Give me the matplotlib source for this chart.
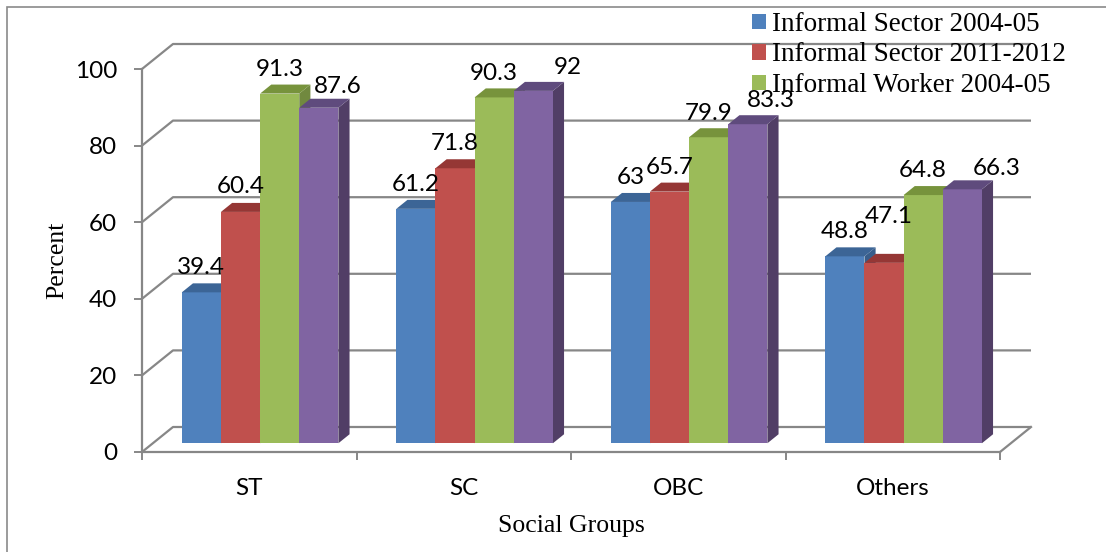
import matplotlib
matplotlib.use("Agg")
import matplotlib.pyplot as plt
from matplotlib.patches import Polygon, Rectangle, Patch

# ---------------- data ----------------
categories = ["ST", "SC", "OBC", "Others"]
series_names = ["Informal Sector 2004-05", "Informal Sector 2011-2012",
                "Informal Worker 2004-05", "Informal Worker 2011-2012"]
sector_0405 = [39.4, 61.2, 63, 48.8]
sector_1112 = [60.4, 71.8, 65.7, 47.1]
worker_0405 = [91.3, 90.3, 79.9, 64.8]
worker_1112 = [87.6, 92, 83.3, 66.3]
label_texts = [["39.4", "61.2", "63", "48.8"],
               ["60.4", "71.8", "65.7", "47.1"],
               ["91.3", "90.3", "79.9", "64.8"],
               ["87.6", "92", "83.3", "66.3"]]
y_ticks = [0, 20, 40, 60, 80, 100]
series = [sector_0405, sector_1112, worker_0405, worker_1112]

# ---------------- style ----------------
front_cols = ["#4F81BD", "#C0504D", "#9BBB59", "#8064A2"]
top_cols = ["#3C6596", "#953735", "#77933C", "#5F4B7D"]
side_cols = ["#385D8A", "#8C3836", "#71893F", "#513E66"]
grid_col = "#878787"
SANS = ["Lato", "DejaVu Sans"]
SERIF = ["Liberation Serif", "DejaVu Serif"]
FS = 17.5

W, H, DPI = 1106, 552, 100
fig = plt.figure(figsize=(W / DPI, H / DPI), dpi=DPI)
ax_l, ax_b, ax_w, ax_h = 142 / W, 100 / H, 858 / W, 383 / H
ax = fig.add_axes([ax_l, ax_b, ax_w, ax_h])
ax.set_xlim(0, 4)
ax.set_ylim(0, 100)
ax.patch.set_visible(False)

# depth vector (pixels -> data units)
px_x = W * ax_w / 4.0
px_y = H * ax_h / 100.0
DXp, DYp = 31, 25
ddx, ddy = DXp / px_x, DYp / px_y
f0, f1 = 0.35, 0.71   # bar front / back depth fractions

# ---------------- walls / grid ----------------
for t in y_ticks:
    ax.plot([0, ddx, 4 + ddx], [t, t + ddy, t + ddy], color=grid_col, lw=1.6,
            clip_on=False, zorder=1, solid_capstyle="butt")
ax.plot([4, 4 + ddx], [0, ddy], color=grid_col, lw=1.6, clip_on=False, zorder=1)

# ---------------- bars ----------------
group_w = 0.73
bw = group_w / 4
for i in range(len(categories)):
    for j, vals in enumerate(series):
        v = vals[i]
        x0 = i + 0.5 - group_w / 2 + j * bw
        x1 = x0 + bw
        z = 2 + j * 0.1 + i
        side = Polygon([(x1 + f0 * ddx, f0 * ddy), (x1 + f0 * ddx, v + f0 * ddy),
                        (x1 + f1 * ddx, v + f1 * ddy), (x1 + f1 * ddx, f1 * ddy)],
                       closed=True, facecolor=side_cols[j], edgecolor="none",
                       clip_on=False, zorder=z)
        ax.add_patch(side)
        ax.bar(x0 + f0 * ddx, v, width=bw, bottom=f0 * ddy, align="edge",
               color=front_cols[j], edgecolor="none", clip_on=False, zorder=z + 0.01)
        top = Polygon([(x0 + f0 * ddx, v + f0 * ddy), (x1 + f0 * ddx, v + f0 * ddy),
                       (x1 + f1 * ddx, v + f1 * ddy), (x0 + f1 * ddx, v + f1 * ddy)],
                      closed=True, facecolor=top_cols[j], edgecolor="none",
                      clip_on=False, zorder=z + 0.02)
        ax.add_patch(top)

# ---------------- data labels ----------------
nudges = [[(0, 18), (0, 18), (0, 18), (0, 18)],
          [(0, 19), (0, 18), (0, 18), (5, 40)],
          [(0, 18), (0, 17), (0, 17), (0, 18)],
          [(19, 15), (34, 17), (23, 17), (34, 14)]]
for j, vals in enumerate(series):
    for i, v in enumerate(vals):
        x0 = i + 0.5 - group_w / 2 + j * bw
        xc = x0 + bw / 2 + f0 * ddx
        dxp, dyp = nudges[j][i]
        ax.annotate(label_texts[j][i], (xc, v + f0 * ddy),
                    xytext=(dxp * 72 / DPI, dyp * 72 / DPI), textcoords="offset points",
                    ha="center", va="baseline", fontsize=FS, family=SANS,
                    color="black", zorder=20, annotation_clip=False)

# ---------------- axes ----------------
for s in ["top", "right"]:
    ax.spines[s].set_visible(False)
for s in ["left", "bottom"]:
    ax.spines[s].set_color(grid_col)
    ax.spines[s].set_linewidth(1.6)
    ax.spines[s].set_zorder(1.5)

ax.set_yticks(y_ticks)
ax.set_yticklabels([str(t) for t in y_ticks], fontsize=FS, family=SANS)
ax.tick_params(axis="y", direction="out", length=5.8, width=1.4, color=grid_col, pad=12)

ax.set_xticks([0, 1, 2, 3, 4])
ax.set_xticklabels([])
ax.tick_params(axis="x", which="major", direction="out", length=5.8, width=1.4,
               color=grid_col)
ax.set_xticks([0.5, 1.5, 2.5, 3.5], minor=True)
ax.set_xticklabels(categories, minor=True, fontsize=FS, family=SANS)
ax.tick_params(axis="x", which="minor", length=0, pad=19)

ax.set_ylabel("Percent", fontsize=18.5, family=SERIF, va="center")
ax.yaxis.set_label_coords((57 - 142) / 858, 0.5)
ax.set_xlabel("Social Groups", fontsize=18.5, family=SERIF, va="center")
ax.xaxis.set_label_coords(0.5, (452 - 526) / 383)

# ---------------- legend (only three entries visible in the original) ----------------
handles = [Patch(facecolor=front_cols[k], edgecolor="none") for k in range(3)]
leg = ax.legend(handles, series_names[:3], loc="upper left",
                bbox_to_anchor=(752 / W, 1 - 12 / H), bbox_transform=fig.transFigure,
                frameon=False, prop={"family": SERIF, "size": 19.5},
                handlelength=0.5, handleheight=0.5, handletextpad=0.25,
                labelspacing=0.2, borderpad=0, borderaxespad=0)
leg.set_zorder(30)

# ---------------- outer border ----------------
fig.patches.append(Rectangle((7 / W, -0.5), 2, 1.5 - 7 / H, transform=fig.transFigure,
                             fill=False, edgecolor="#8a8a8a", lw=1.2))

fig.savefig("out.png", dpi=DPI)
